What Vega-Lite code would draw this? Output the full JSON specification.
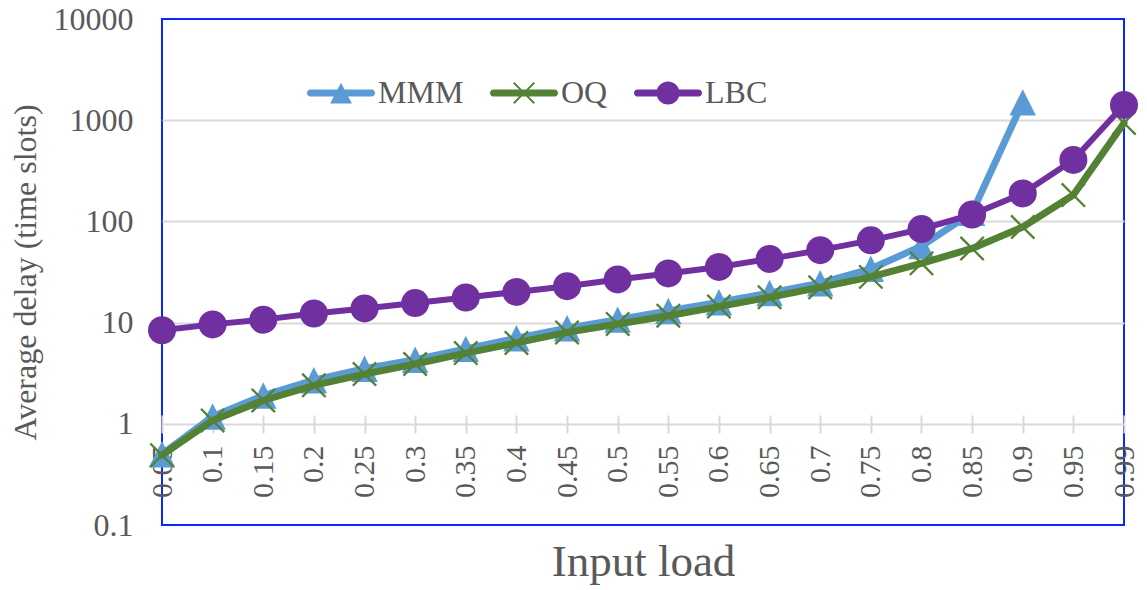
{
  "$schema": "https://vega.github.io/schema/vega-lite/v6.json",
  "width": 962,
  "height": 506,
  "autosize": {"type": "none"},
  "padding": {"left": 162, "top": 19, "right": 23, "bottom": 65},
  "background": "white",
  "config": {
    "font": "Liberation Serif",
    "view": {"stroke": "#0a28ff", "strokeWidth": 2},
    "axis": {"labelColor": "#595959", "titleColor": "#595959", "labelFont": "Liberation Serif", "titleFont": "Liberation Serif", "titleFontWeight": "normal"}
  },
  "data": {"values": [
    {"series": "MMM", "load": "0.05", "delay": 0.5},
    {"series": "MMM", "load": "0.1", "delay": 1.18},
    {"series": "MMM", "load": "0.15", "delay": 1.9},
    {"series": "MMM", "load": "0.2", "delay": 2.7},
    {"series": "MMM", "load": "0.25", "delay": 3.5},
    {"series": "MMM", "load": "0.3", "delay": 4.3},
    {"series": "MMM", "load": "0.35", "delay": 5.5},
    {"series": "MMM", "load": "0.4", "delay": 7.0},
    {"series": "MMM", "load": "0.45", "delay": 8.8},
    {"series": "MMM", "load": "0.5", "delay": 10.7},
    {"series": "MMM", "load": "0.55", "delay": 13},
    {"series": "MMM", "load": "0.6", "delay": 15.9},
    {"series": "MMM", "load": "0.65", "delay": 19.6},
    {"series": "MMM", "load": "0.7", "delay": 24.5},
    {"series": "MMM", "load": "0.75", "delay": 34},
    {"series": "MMM", "load": "0.8", "delay": 57},
    {"series": "MMM", "load": "0.85", "delay": 122},
    {"series": "MMM", "load": "0.9", "delay": 1500},
    {"series": "OQ", "load": "0.05", "delay": 0.49},
    {"series": "OQ", "load": "0.1", "delay": 1.08},
    {"series": "OQ", "load": "0.15", "delay": 1.7},
    {"series": "OQ", "load": "0.2", "delay": 2.4},
    {"series": "OQ", "load": "0.25", "delay": 3.1},
    {"series": "OQ", "load": "0.3", "delay": 3.9},
    {"series": "OQ", "load": "0.35", "delay": 5.0},
    {"series": "OQ", "load": "0.4", "delay": 6.3},
    {"series": "OQ", "load": "0.45", "delay": 8.0},
    {"series": "OQ", "load": "0.5", "delay": 9.7},
    {"series": "OQ", "load": "0.55", "delay": 11.7},
    {"series": "OQ", "load": "0.6", "delay": 14.4},
    {"series": "OQ", "load": "0.65", "delay": 17.8},
    {"series": "OQ", "load": "0.7", "delay": 22.3},
    {"series": "OQ", "load": "0.75", "delay": 28.3},
    {"series": "OQ", "load": "0.8", "delay": 38.5},
    {"series": "OQ", "load": "0.85", "delay": 54},
    {"series": "OQ", "load": "0.9", "delay": 88},
    {"series": "OQ", "load": "0.95", "delay": 182},
    {"series": "OQ", "load": "0.99", "delay": 940},
    {"series": "LBC", "load": "0.05", "delay": 8.4},
    {"series": "LBC", "load": "0.1", "delay": 9.6},
    {"series": "LBC", "load": "0.15", "delay": 10.7},
    {"series": "LBC", "load": "0.2", "delay": 12.3},
    {"series": "LBC", "load": "0.25", "delay": 13.8},
    {"series": "LBC", "load": "0.3", "delay": 15.6},
    {"series": "LBC", "load": "0.35", "delay": 17.7},
    {"series": "LBC", "load": "0.4", "delay": 20.1},
    {"series": "LBC", "load": "0.45", "delay": 22.9},
    {"series": "LBC", "load": "0.5", "delay": 26.7},
    {"series": "LBC", "load": "0.55", "delay": 30.6},
    {"series": "LBC", "load": "0.6", "delay": 35.5},
    {"series": "LBC", "load": "0.65", "delay": 42.6},
    {"series": "LBC", "load": "0.7", "delay": 52},
    {"series": "LBC", "load": "0.75", "delay": 65},
    {"series": "LBC", "load": "0.8", "delay": 84},
    {"series": "LBC", "load": "0.85", "delay": 117},
    {"series": "LBC", "load": "0.9", "delay": 189},
    {"series": "LBC", "load": "0.95", "delay": 405},
    {"series": "LBC", "load": "0.99", "delay": 1416}
  ]},
  "encoding": {
    "x": {
      "field": "load", "type": "ordinal",
      "scale": {"type": "point", "padding": 0, "domain": ["0.05","0.1","0.15","0.2","0.25","0.3","0.35","0.4","0.45","0.5","0.55","0.6","0.65","0.7","0.75","0.8","0.85","0.9","0.95","0.99"]},
      "axis": {
        "title": "Input load", "titleFontSize": 45, "titleX": 481, "titleY": 160, "titleBaseline": "alphabetic", "titleAlign": "center",
        "offset": -110, "domain": false, "ticks": true, "tickSize": 18, "tickColor": "#d9d9d9", "tickWidth": 2, "grid": false,
        "labelAngle": -90, "labelFontSize": 30, "labelPadding": 12, "labelAlign": "right", "labelBaseline": "middle", "labelOverlap": false
      }
    },
    "y": {
      "field": "delay", "type": "quantitative",
      "scale": {"type": "log", "domain": [0.1, 10000]},
      "axis": {
        "title": "Average delay (time slots)", "titleFontSize": 32, "titleX": -127, "titleY": 253, "titleBaseline": "alphabetic", "titleAlign": "center", "titleAngle": -90,
        "values": [0.1, 1, 10, 100, 1000, 10000], "format": "~g",
        "labelFontSize": 32, "labelPadding": 29, "ticks": false, "tickSize": 0, "domain": false,
        "grid": true, "gridColor": "#d9d9d9", "gridWidth": 2,
        "gridOpacity": {"condition": {"test": "datum.value < 0.5 || datum.value > 5000", "value": 0}, "value": 1}
      }
    },
    "color": {
      "field": "series", "type": "nominal",
      "scale": {"domain": ["MMM", "OQ", "LBC"], "range": ["#5B9BD5", "#548235", "#7030A0"]},
      "legend": {
        "orient": "none", "legendX": 145, "legendY": 40, "direction": "horizontal", "title": null,
        "labelFontSize": 32, "labelColor": "#595959", "labelFont": "Liberation Serif", "labelLimit": 0,
        "symbolSize": 4624, "symbolOpacity": 1, "symbolStrokeWidth": 0, "labelOffset": 3, "columnPadding": 26, "padding": 0,
        "encode": {"symbols": {"update": {
          "shape": {"signal": "datum.value === 'MMM' ? 'M-0.9,-0.1H0.9A0.1,0.1 0 0,1 0.9,0.1H-0.9A0.1,0.1 0 0,1 -0.9,-0.1ZM0,-0.3L0.32,0.31L-0.32,0.31Z' : datum.value === 'OQ' ? 'M-0.9,-0.1H0.9A0.1,0.1 0 0,1 0.9,0.1H-0.9A0.1,0.1 0 0,1 -0.9,-0.1ZM0.32,-0.28L0.04,0L0.32,0.28L0.28,0.32L0,0.04L-0.28,0.32L-0.32,0.28L-0.04,0L-0.32,-0.28L-0.28,-0.32L0,-0.04L0.28,-0.32Z' : 'M-0.9,-0.1H0.9A0.1,0.1 0 0,1 0.9,0.1H-0.9A0.1,0.1 0 0,1 -0.9,-0.1ZM0.34,0A0.34,0.34 0 1,1 -0.34,0A0.34,0.34 0 1,1 0.34,0Z'"},
          "fill": {"scale": "color", "field": "value"},
          "strokeWidth": {"value": 0},
          "opacity": {"value": 1}
        }}}
      }
    }
  },
  "layer": [
    {"transform": [{"filter": {"field": "series", "equal": "MMM"}}], "mark": {"type": "line", "strokeWidth": 7, "strokeCap": "round", "strokeJoin": "round"}},
    {"transform": [{"filter": {"field": "series", "equal": "MMM"}}], "mark": {"type": "point", "filled": true, "opacity": 1, "shape": "M0,-1L1,1L-1,1Z", "size": 700}},
    {"transform": [{"filter": {"field": "series", "equal": "OQ"}}], "mark": {"type": "line", "strokeWidth": 7, "strokeCap": "round", "strokeJoin": "round"}},
    {"transform": [{"filter": {"field": "series", "equal": "OQ"}}], "mark": {"type": "point", "filled": true, "opacity": 1, "shape": "M1.07,-0.93L0.14,0L1.07,0.93L0.93,1.07L0,0.14L-0.93,1.07L-1.07,0.93L-0.14,0L-1.07,-0.93L-0.93,-1.07L0,-0.14L0.93,-1.07Z", "size": 545}},
    {"transform": [{"filter": {"field": "series", "equal": "LBC"}}], "mark": {"type": "line", "strokeWidth": 6, "strokeCap": "round", "strokeJoin": "round"}},
    {"transform": [{"filter": {"field": "series", "equal": "LBC"}}], "mark": {"type": "point", "filled": true, "opacity": 1, "shape": "circle", "size": 784}}
  ]
}
